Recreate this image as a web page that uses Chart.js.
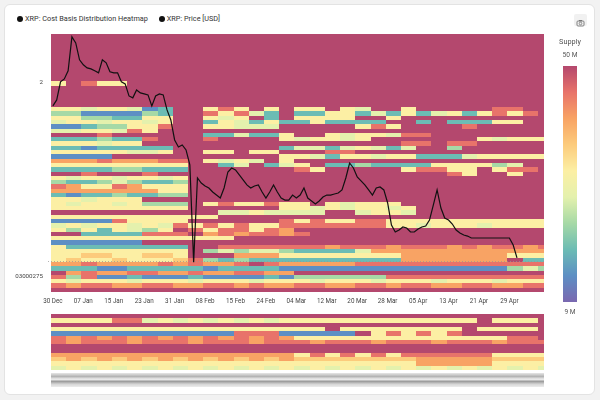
<!DOCTYPE html>
<html>
<head>
<meta charset="utf-8">
<script src="https://cdn.jsdelivr.net/npm/chart.js@4.4.1/dist/chart.umd.min.js"></script>
<style>
  html, body { margin: 0; padding: 0; width: 600px; height: 400px; overflow: hidden; background: #f2f2f2; font-family: Roboto, "Open Sans", sans-serif; }
  #card { position: absolute; left: 4px; top: 4px; width: 591px; height: 391px; background: #fff; border: 1px solid #e3e3e3; border-radius: 6px; box-sizing: border-box; }
  #legend { position: absolute; left: 17px; top: 14px; font-size: 7.3px; color: #333; white-space: nowrap; }
  #legend span.item { display: inline-block; margin-right: 9px; }
  #legend span.dot { display: inline-block; width: 6px; height: 6px; border-radius: 50%; background: #111; margin-right: 2px; vertical-align: -0.5px; }
  #cam { position: absolute; left: 574px; top: 14px; width: 13px; height: 12px; border-radius: 2px; background: #f1f1f1; }
  #mainWrap { position: absolute; left: 0; top: 0; width: 600px; height: 400px; }
  #navWrap { position: absolute; left: 51px; top: 314px; width: 493px; height: 56px; }
  #strip { position: absolute; left: 51px; top: 373px; width: 493px; height: 14px;
    background: linear-gradient(#e6e6e6, #b4b4b4 25%, #f0f0f0 45%, #9c9c9c 60%, #d6d6d6 80%, #ececec); }
  #cbar { position: absolute; left: 563px; top: 66px; width: 14px; height: 236px; }
  .cbl { position: absolute; width: 40px; left: 550px; text-align: center; color: #555; }
</style>
</head>
<body>
<div id="card"></div>
<div id="legend">
  <span class="item"><span class="dot"></span>XRP: Cost Basis Distribution Heatmap</span>
  <span class="item"><span class="dot"></span>XRP: Price [USD]</span>
</div>
<div id="cam">
  <svg width="13" height="12" viewBox="0 0 13 12"><rect x="3" y="4" width="7" height="5" rx="1" fill="none" stroke="#777" stroke-width="0.9"/><rect x="5" y="3" width="3" height="1.2" fill="#777"/><circle cx="6.5" cy="6.5" r="1.3" fill="none" stroke="#777" stroke-width="0.8"/></svg>
</div>
<div id="mainWrap"><canvas id="main"></canvas></div>
<div id="navWrap"><canvas id="nav"></canvas></div>
<div id="strip"></div>
<div class="cbl" style="top:37px;font-size:7.3px;">Supply</div>
<div class="cbl" style="top:51px;font-size:6.6px;">50 M</div>
<div id="cbar"></div>
<div class="cbl" style="top:308px;font-size:6.6px;">9 M</div>

<script>
'use strict';

/* ---------- data ---------- */
// x axis: day index (0 = 30 Dec)
const tickDays = [0, 8, 16, 24, 32, 40, 48, 56, 64, 72, 80, 88, 96, 104, 112, 120];
const tickLabels = ['30 Dec', '07 Jan', '15 Jan', '23 Jan', '31 Jan', '08 Feb', '15 Feb', '24 Feb',
  '04 Mar', '12 Mar', '20 Mar', '28 Mar', '05 Apr', '13 Apr', '21 Apr', '29 Apr'];
const yTickValues = [2, 0.3];
const yTickLabels = ['2', '03000275'];

// supply levels 0 (9 M) .. 9 (50 M)
const palette = ['#7a68b0', '#5d8fc4', '#6cbcb4', '#a6d9a6', '#e4f1ad', '#fcefa4',
  '#fccb7c', '#f8a364', '#e8736a', '#b4486e'];

// daily XRP price [USD]
const priceValues = [
  1.797, 1.850, 2.009, 2.035, 2.106, 2.405, 2.352, 2.203, 2.159, 2.132,
  2.123, 2.106, 2.088, 2.203, 2.176, 2.097, 2.088, 2.088, 2.009, 1.991,
  1.885, 1.868, 1.938, 1.912, 1.903, 1.894, 1.797, 1.885, 1.903, 1.894,
  1.762, 1.674, 1.498, 1.436, 1.454, 1.410, 1.278, 0.423, 1.163, 1.119,
  1.093, 1.075, 1.040, 1.013, 0.987, 1.075, 1.216, 1.251, 1.234, 1.190,
  1.146, 1.102, 1.075, 1.093, 1.102, 1.040, 0.987, 1.040, 1.102, 1.040,
  0.987, 0.969, 0.969, 1.013, 0.987, 1.013, 1.075, 0.987, 0.961, 0.934,
  0.961, 0.996, 1.013, 1.013, 1.022, 1.031, 1.058, 1.163, 1.295, 1.251,
  1.172, 1.137, 1.102, 1.058, 1.013, 1.075, 1.084, 1.058, 0.943, 0.749,
  0.688, 0.705, 0.732, 0.723, 0.688, 0.688, 0.714, 0.732, 0.740, 0.793,
  0.925, 1.058, 0.899, 0.811, 0.793, 0.758, 0.705, 0.679, 0.661, 0.652,
  0.635, 0.635, 0.635, 0.635, 0.635, 0.635, 0.635, 0.635, 0.635, 0.635,
  0.635, 0.573, 0.460
];
const refPrice = 0.437;

// cost basis heatmap, one string per price bin (top = highest price),
// one digit per 4-day block, digit = supply level; missing blocks = 9
const blockDays = 4;
const supplyRows = [
  '', '', '', '', '', '', '', '', '', '', '',
  '598559',
  '', '', '', '', '',
  '554554 12 99 585 9 5 9 55 9 54 99 5 99999 88 99',
  '33111132 99 85842 9 2255 24252452 58589',
  '55332255 99 545 9 2 9 5555 99 5',
  '45545545 99 254252 25 2222 99 2 9 22255',
  '11233558 99 55444 99999 585 9999 8',
  '44554859',
  '99989999 99 224225 99 54554 88',
  '22232289 99 8 9999 545545 9999999 54555',
  '55545599 99 9999999999999 88 9 88',
  '22122222 99 99999 244245424 99 3',
  '55555445 99 55955 999 88',
  '11119999 99 99999 554255455222455555',
  '777877788 9 545495',
  '555555555 9 92492 4 59 2232222 5555 34',
  '222233222 9 99999 9 85 9999 95885595889',
  '998999899 9 999999999999999 9859959',
  '545545545',
  '322343223',
  '875587555',
  '777777755',
  '2122322339',
  '554555999',
  '545545333 9 585585 5 9 54555',
  '555555555 9 99999 55 4545545',
  '9999999999 9 44544 44 99 4554',
  '5555555555 5',
  '11118 5555 9 99999 858558855555555555',
  '45455454 85858558 888888 55455545555',
  '53525435 9 8588587',
  '99 2222 888 9 787887 8',
  '555555555555',
  '111111',
  '5 22222222 99 88888 88788878887878878',
  '555555555 9 343443 2222 4 777777777777',
  '556655665 9 99777 55555555 7777777 555',
  '565565556 8 323222 2222222 7777777 9 22',
  '7787777878778 98 77777 8888888888888',
  '2221122222122221 11111111111111 343',
  '9 787788778778877',
  '838 1121112111121 333333 88888888888',
  '545554555455545554555455545554555',
  '878877887788787788778878877887788',
  ''
];

// overview (navigator) heatmap rows
const overviewRows = [
  '',
  '5555 88 4545454545 555555555555 9 555',
  '',
  '555555555555555555 9 55555555 9 5555',
  '111111111111 888 11111 9 58 5858',
  '8787878787878787 55555555555555 88',
  '878887888788878887888788878887888',
  '',
  '',
  '7777777777777777 58585858 88888 5555',
  '6767676767676767 66666666 77777 6666',
  '5555555555555555 55555555 77777 5555',
  '4545454545454545 45454545 45454 5454'
];

/* ---------- helpers ---------- */
const FONT = 'Roboto, "Open Sans", sans-serif';
const xMin = -0.5, xMax = 129.1;
const yMin = 0.16, yMax = 2.43;

document.getElementById('cbar').style.background =
  'linear-gradient(to bottom,' + palette.slice().reverse().join(',') + ')';

function heatPlugin(id, rows, yTop, yStep) {
  return {
    id: id,
    beforeDatasetsDraw(chart) {
      const { ctx, chartArea: a, scales: { x, y } } = chart;
      ctx.save();
      ctx.beginPath();
      ctx.rect(a.left, a.top, a.right - a.left, a.bottom - a.top);
      ctx.clip();
      ctx.fillStyle = palette[9];
      ctx.fillRect(a.left, a.top, a.right - a.left, a.bottom - a.top);
      rows.forEach((row, r) => {
        const cells = row.replace(/ /g, '');
        const y0 = Math.round(y.getPixelForValue(yTop - r * yStep));
        const y1 = Math.round(y.getPixelForValue(yTop - (r + 1) * yStep));
        for (let b = 0; b < cells.length; b++) {
          const lvl = +cells[b];
          if (lvl === 9) continue;
          const x0 = Math.round(x.getPixelForValue(b * blockDays - 0.5));
          const x1 = Math.round(x.getPixelForValue((b + 1) * blockDays - 0.5));
          ctx.fillStyle = palette[lvl];
          ctx.fillRect(x0, y0, x1 - x0, y1 - y0);
        }
      });
      ctx.restore();
    }
  };
}

const refLine = {
  id: 'refLine',
  beforeDatasetsDraw(chart) {
    const { ctx, chartArea: a, scales: { y } } = chart;
    const py = Math.round(y.getPixelForValue(refPrice)) + 0.5;
    ctx.save();
    ctx.strokeStyle = 'rgba(150,150,150,0.9)';
    ctx.lineWidth = 0.8;
    ctx.setLineDash([1, 2]);
    ctx.beginPath();
    ctx.moveTo(a.left - 3, py);
    ctx.lineTo(a.right, py);
    ctx.stroke();
    ctx.restore();
  }
};

/* ---------- main chart ---------- */
new Chart(document.getElementById('main'), {
  type: 'line',
  data: {
    datasets: [{
      data: priceValues.map((v, i) => ({ x: i, y: v })),
      borderColor: '#111',
      borderWidth: 1.2,
      pointRadius: 0,
      tension: 0,
      fill: false
    }]
  },
  options: {
    responsive: true, maintainAspectRatio: false, animation: false,
    layout: { padding: { left: 11, top: 34, right: 56, bottom: 88 } },
    plugins: { legend: { display: false }, tooltip: { enabled: false } },
    scales: {
      x: {
        type: 'linear', min: xMin, max: xMax,
        grid: { display: false, drawTicks: false }, border: { display: false },
        afterFit(s) { s.height = 20; },
        afterBuildTicks(s) { s.ticks = tickDays.map(v => ({ value: v })); },
        ticks: {
          autoSkip: false, maxRotation: 0, padding: 6, color: '#444',
          font: { size: 6.3, family: FONT },
          callback: (v, i) => tickLabels[i]
        }
      },
      y: {
        type: 'linear', min: yMin, max: yMax,
        grid: { display: false, drawTicks: false }, border: { display: false },
        afterFit(s) { s.width = 40; },
        afterBuildTicks(s) { s.ticks = yTickValues.map(v => ({ value: v })); },
        ticks: {
          padding: 8, color: '#444',
          font: { size: 6.2, family: FONT },
          callback: (v, i) => yTickLabels[i]
        }
      }
    }
  },
  plugins: [heatPlugin('heatMain', supplyRows, yMax, (yMax - yMin) / supplyRows.length), refLine]
});

/* ---------- overview chart ---------- */
new Chart(document.getElementById('nav'), {
  type: 'line',
  data: { datasets: [] },
  options: {
    responsive: true, maintainAspectRatio: false, animation: false,
    layout: { padding: 0 },
    plugins: { legend: { display: false }, tooltip: { enabled: false } },
    scales: {
      x: { type: 'linear', min: xMin, max: xMax, display: false },
      y: { type: 'linear', min: 0, max: overviewRows.length, display: false }
    }
  },
  plugins: [heatPlugin('heatNav', overviewRows, overviewRows.length, 1)]
});
</script>
</body>
</html>
